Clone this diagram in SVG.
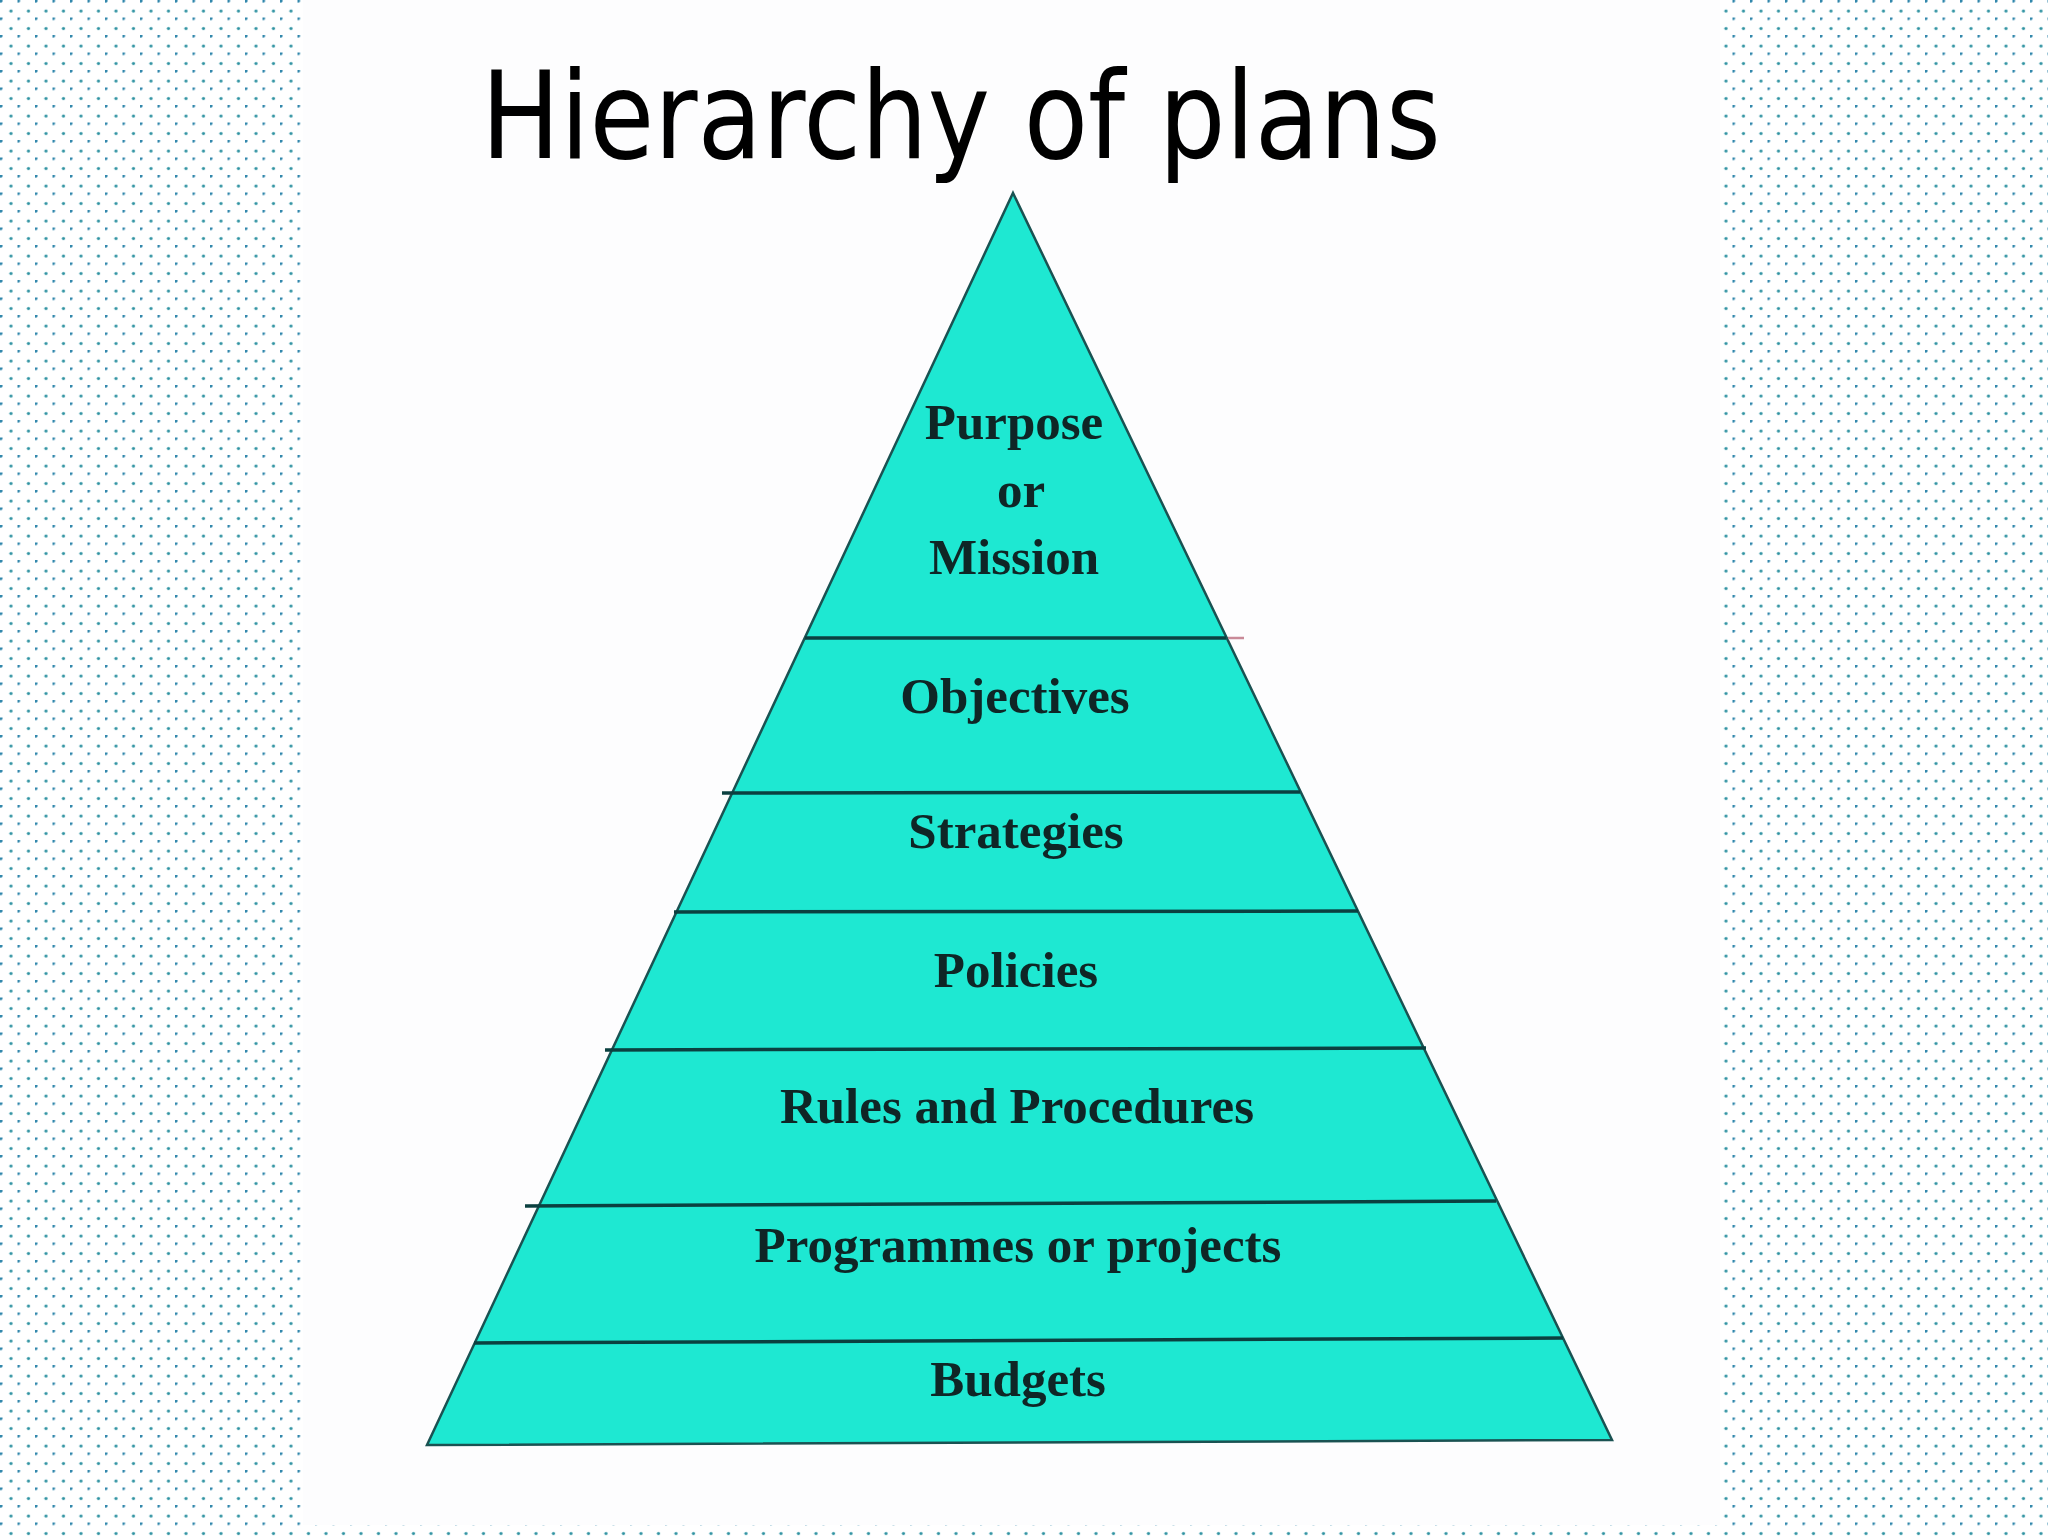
<svg xmlns="http://www.w3.org/2000/svg" width="2048" height="1536" viewBox="0 0 2048 1536">
  <defs>
    <pattern id="dots" x="0" y="0" width="17.5" height="17.5" patternUnits="userSpaceOnUse">
      <circle cx="1" cy="1" r="1.6" fill="#2f86ab"/>
      <circle cx="11" cy="11" r="1.6" fill="#2f93a2"/>
    </pattern>
    <style>
      .tier { font-family: "Liberation Serif", "Times New Roman", serif; font-weight: bold; font-size: 51px; fill: #0f2626; text-anchor: middle; }
      .div { stroke: #0b4040; stroke-width: 3.5; fill: none; }
      .over { stroke: #c98a98; stroke-width: 2.5; }
      .title { font-family: "DejaVu Sans", Verdana, sans-serif; font-size: 121px; fill: #000; text-anchor: middle; }
    </style>
  </defs>

  <rect x="0" y="0" width="2048" height="1536" fill="#ffffff"/>
  <rect x="0" y="0" width="2048" height="1536" fill="url(#dots)"/>
  <rect x="303" y="0" width="1417" height="1525" fill="#fdfdfe"/>

  <g id="title">
    <text class="title" x="961" y="158" textLength="960" lengthAdjust="spacingAndGlyphs">Hierarchy of plans</text>
  </g>

  <g id="pyramid">
    <polygon points="1013,193 1612,1440 427,1445" fill="#1ee8d2" stroke="#1a5252" stroke-width="2.5" stroke-linejoin="miter"/>
  </g>

  <g id="connectors">
    <line class="div" x1="805" y1="638" x2="1226" y2="638"/>
    <line class="over" x1="1228" y1="638" x2="1244" y2="638"/>
    <line class="div" x1="722" y1="793" x2="1300" y2="792"/>
    <line class="div" x1="674" y1="912" x2="1358" y2="911"/>
    <line class="div" x1="605" y1="1050" x2="1426" y2="1048"/>
    <line class="div" x1="525" y1="1206" x2="1496" y2="1201"/>
    <line class="div" x1="474" y1="1343" x2="1563" y2="1338"/>
  </g>

  <g id="purpose">
    <text class="tier" x="1014" y="439">Purpose</text>
    <text class="tier" x="1021" y="507">or</text>
    <text class="tier" x="1014" y="574">Mission</text>
  </g>
  <g id="objectives">
    <text class="tier" x="1015" y="713">Objectives</text>
  </g>
  <g id="strategies">
    <text class="tier" x="1016" y="848">Strategies</text>
  </g>
  <g id="policies">
    <text class="tier" x="1016" y="987">Policies</text>
  </g>
  <g id="rules">
    <text class="tier" x="1017" y="1123">Rules and Procedures</text>
  </g>
  <g id="programmes">
    <text class="tier" x="1018" y="1262">Programmes or projects</text>
  </g>
  <g id="budgets">
    <text class="tier" x="1018" y="1396">Budgets</text>
  </g>
</svg>
